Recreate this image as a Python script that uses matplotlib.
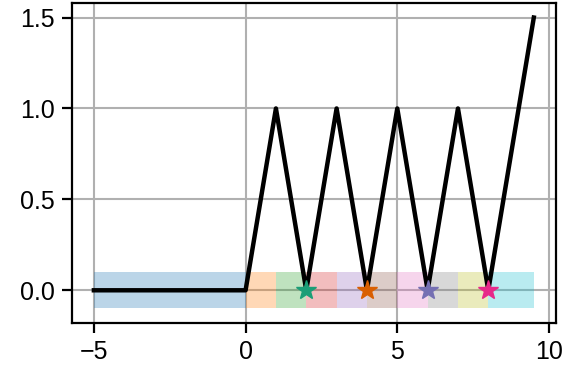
import numpy as np
import matplotlib
matplotlib.use("Agg")
import matplotlib.pyplot as plt

plt.rcParams['font.family'] = ['Liberation Sans', 'DejaVu Sans']

# line data
x_vals = [-5, 0, 1, 2, 3, 4, 5, 6, 7, 8, 9.5]
y_vals = [0, 0, 1, 0, 1, 0, 1, 0, 1, 0, 1.5]

# shaded segments along the bottom
seg_edges = [-5, 0, 1, 2, 3, 4, 5, 6, 7, 8, 9.5]
seg_colors = plt.get_cmap('tab10').colors

# star markers
star_x = [2, 4, 6, 8]
star_y = [0, 0, 0, 0]
star_colors = plt.get_cmap('Dark2').colors[:4]

fig, ax = plt.subplots(figsize=(5.66, 3.73), dpi=100)
fig.subplots_adjust(left=0.127, right=0.982, top=0.992, bottom=0.134)

for i in range(len(seg_edges) - 1):
    ax.fill_between([seg_edges[i], seg_edges[i + 1]], -0.1, 0.1,
                    color=seg_colors[i], alpha=0.3, linewidth=0)

ax.plot(x_vals, y_vals, color='black', lw=3.2, zorder=3)

for sx, sy, c in zip(star_x, star_y, star_colors):
    ax.plot(sx, sy, marker='*', color=c, ms=15, zorder=4)

ax.set_xticks([-5, 0, 5, 10])
ax.set_yticks([0, 0.5, 1.0, 1.5])
ax.tick_params(labelsize=18, width=1.6, length=7, pad=5)
for s in ax.spines.values():
    s.set_linewidth(1.6)
ax.grid(True, color='#b0b0b0', lw=1.5)
ax.set_axisbelow(True)

plt.savefig('out.png')
